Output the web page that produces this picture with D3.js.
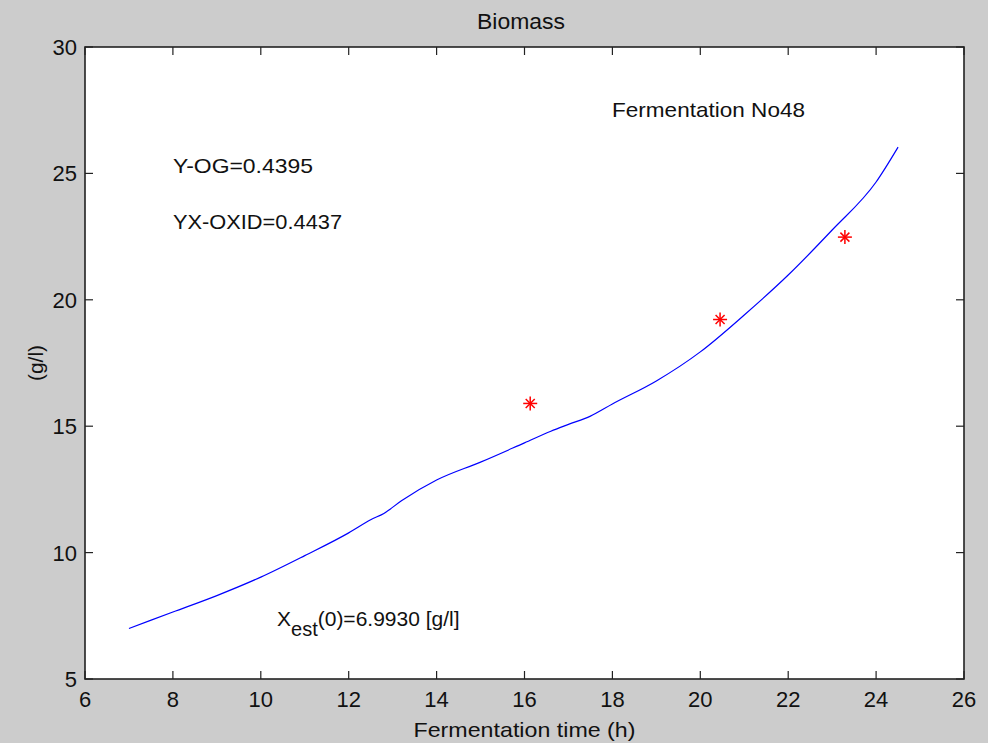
<!DOCTYPE html>
<html><head><meta charset="utf-8">
<script src="https://cdn.jsdelivr.net/npm/d3@7"></script>
<style>
html,body{margin:0;padding:0;background:#cccccc;}
svg{display:block;}
text{font-family:"Liberation Sans",Arial,sans-serif;fill:#111;}
</style></head><body>
<svg id="chart" width="988" height="743"></svg>
<script>
// Data
const xTicks = [6, 8, 10, 12, 14, 16, 18, 20, 22, 24, 26];
const yTicks = [5, 10, 15, 20, 25, 30];
const modelTime = [7.0, 8.0, 9.0, 10.0, 11.0, 12.0, 12.5, 12.8, 13.2, 14.0, 15.0, 16.0, 16.6, 17.0, 17.5, 18.0, 19.0, 20.0, 21.0, 22.0, 23.0, 24.0, 24.5];
const modelBiomass = [7.0, 7.65, 8.3, 9.03, 9.88, 10.78, 11.3, 11.55, 12.05, 12.87, 13.58, 14.34, 14.8, 15.07, 15.4, 15.88, 16.79, 17.94, 19.4, 20.98, 22.76, 24.66, 26.04];
const measTime = [16.13, 20.45, 23.29];
const measBiomass = [15.9, 19.22, 22.48];

const svg = d3.select("#chart");
const L = 85, R = 964, T = 47, B = 679;
const x = d3.scaleLinear().domain([6, 26]).range([L, R]);
const y = d3.scaleLinear().domain([5, 30]).range([B, T]);

svg.append("rect").attr("x", L).attr("y", T).attr("width", R - L).attr("height", B - T).attr("fill", "#fff");

const tickLen = 8;
const g = svg.append("g");
xTicks.forEach(v => {
  g.append("line").attr("x1", x(v)).attr("x2", x(v)).attr("y1", B).attr("y2", B - tickLen).attr("stroke", "#222").attr("stroke-width", 1.2);
  g.append("line").attr("x1", x(v)).attr("x2", x(v)).attr("y1", T).attr("y2", T + tickLen).attr("stroke", "#222").attr("stroke-width", 1.2);
  g.append("text").attr("x", x(v)).attr("y", B + 28).attr("text-anchor", "middle").attr("font-size", 22).text(v);
});
yTicks.forEach(v => {
  g.append("line").attr("x1", L).attr("x2", L + tickLen).attr("y1", y(v)).attr("y2", y(v)).attr("stroke", "#222").attr("stroke-width", 1.2);
  g.append("line").attr("x1", R).attr("x2", R - tickLen).attr("y1", y(v)).attr("y2", y(v)).attr("stroke", "#222").attr("stroke-width", 1.2);
  g.append("text").attr("x", 77).attr("y", y(v) + 8).attr("text-anchor", "end").attr("font-size", 22).text(v);
});
svg.append("rect").attr("x", L).attr("y", T).attr("width", R - L).attr("height", B - T).attr("fill", "none").attr("stroke", "#222").attr("stroke-width", 1.6);

// model curve
const line = d3.line().x(d => x(d[0])).y(d => y(d[1])).curve(d3.curveMonotoneX);
svg.append("path").datum(modelTime.map((t, i) => [t, modelBiomass[i]]))
  .attr("d", line).attr("fill", "none").attr("stroke", "#0000ff").attr("stroke-width", 1.2);

// measured stars
const starG = svg.append("g");
measTime.forEach((t, i) => {
  const cx = x(t), cy = y(measBiomass[i]), r = 7, rd = 4.5;
  const s = starG.append("g").attr("stroke", "#ff0000").attr("stroke-width", 1.5);
  s.append("line").attr("x1", cx - r).attr("x2", cx + r).attr("y1", cy).attr("y2", cy);
  s.append("line").attr("x1", cx).attr("x2", cx).attr("y1", cy - r).attr("y2", cy + r);
  s.append("line").attr("x1", cx - rd).attr("x2", cx + rd).attr("y1", cy - rd).attr("y2", cy + rd);
  s.append("line").attr("x1", cx - rd).attr("x2", cx + rd).attr("y1", cy + rd).attr("y2", cy - rd);
});

// texts
function txt(xp, yp, s, size, len, anchor) {
  const t = svg.append("text").attr("x", xp).attr("y", yp).attr("font-size", size).text(s);
  if (len) t.attr("textLength", len).attr("lengthAdjust", "spacingAndGlyphs");
  if (anchor) t.attr("text-anchor", anchor);
  return t;
}
txt(521, 29, "Biomass", 22, 88, "middle");
txt((L + R) / 2, 737, "Fermentation time (h)", 21, 222, "middle");
svg.append("text").attr("transform", `translate(43,${(T + B) / 2}) rotate(-90)`).attr("text-anchor", "middle")
  .attr("font-size", 20).attr("textLength", 36).attr("lengthAdjust", "spacingAndGlyphs").text("(g/l)");
txt(612, 117, "Fermentation No48", 21, 193);
txt(173, 173, "Y-OG=0.4395", 21, 140);
txt(173, 229, "YX-OXID=0.4437", 21, 169);
const xe = svg.append("text").attr("x", 277).attr("y", 626).attr("font-size", 21);
xe.append("tspan").text("X");
xe.append("tspan").attr("dy", 10).attr("font-size", 20).text("est");
xe.append("tspan").attr("dy", -10).text("(0)=6.9930 [g/l]");
</script>
</body></html>
